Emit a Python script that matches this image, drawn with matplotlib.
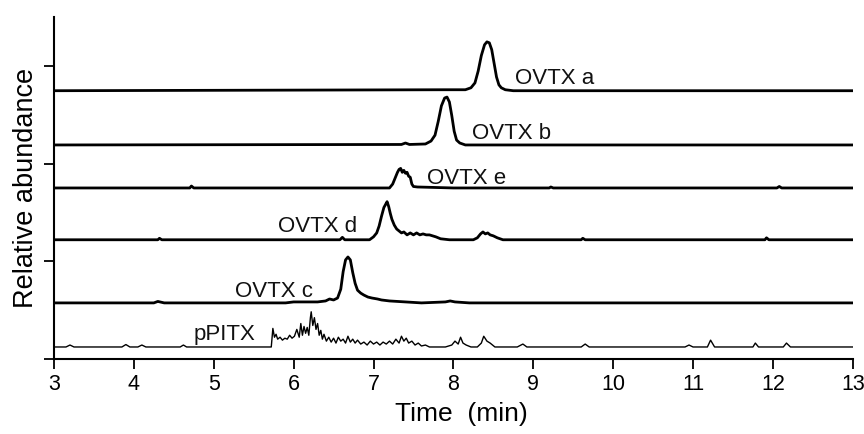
# Stacked LC-MS extracted ion chromatograms (OVTX a-e, pPITX)

import numpy as np
import matplotlib.pyplot as plt

plt.rcParams['font.family'] = ['Liberation Sans', 'DejaVu Sans']

# traces: retention time (min) and relative intensity
t_a = [3.0, 7.9, 8.15, 8.22, 8.27, 8.31, 8.35, 8.39, 8.42, 8.45, 8.48, 8.51, 8.54, 8.57, 8.60, 8.65, 8.75, 13.0]
i_a = [0.0, 0.01, 0.01, 0.03, 0.08, 0.20, 0.36, 0.47, 0.50, 0.49, 0.42, 0.28, 0.14, 0.06, 0.03, 0.01, 0.0, 0.0]

t_b = [3.0, 7.35, 7.4, 7.45, 7.65, 7.72, 7.77, 7.81, 7.85, 7.89, 7.92, 7.95, 7.98, 8.01, 8.04, 8.08, 8.15, 13.0]
i_b = [0.0, 0.005, 0.02, 0.005, 0.01, 0.04, 0.10, 0.24, 0.40, 0.48, 0.49, 0.44, 0.30, 0.14, 0.05, 0.02, 0.0, 0.0]

t_e = [3.0, 4.70, 4.72, 4.75, 7.20, 7.24, 7.27, 7.30, 7.32, 7.34, 7.36, 7.38, 7.40, 7.42, 7.44, 7.46, 7.48, 7.50, 7.55,
       8.0, 9.2, 9.22, 9.25, 12.05, 12.08, 12.11, 13.0]
i_e = [0.0, 0.0, 0.02, 0.0, 0.0, 0.04, 0.10, 0.16, 0.19, 0.20, 0.16, 0.18, 0.15, 0.16, 0.12, 0.11, 0.04, 0.015, 0.01,
       0.0, 0.0, 0.01, 0.0, 0.0, 0.015, 0.0, 0.0]

t_d = [3.0, 4.30, 4.32, 4.35, 6.58, 6.61, 6.64, 6.95, 7.00, 7.04, 7.07, 7.10, 7.13, 7.15, 7.17, 7.19, 7.21, 7.23, 7.26,
       7.29, 7.32, 7.35, 7.38, 7.42, 7.46, 7.50, 7.54, 7.58, 7.62, 7.66, 7.70, 7.74, 7.78, 7.84, 7.95, 8.25, 8.30,
       8.34, 8.37, 8.40, 8.43, 8.46, 8.50, 8.55, 8.62, 9.60, 9.62, 9.65, 11.90, 11.92, 11.95, 13.0]
i_d = [0.0, 0.0, 0.015, 0.0, 0.0, 0.025, 0.0, 0.0, 0.03, 0.07, 0.14, 0.24, 0.33, 0.36, 0.39, 0.34, 0.27, 0.21, 0.15,
       0.11, 0.09, 0.07, 0.08, 0.05, 0.07, 0.05, 0.07, 0.05, 0.06, 0.05, 0.05, 0.04, 0.03, 0.01, 0.0, 0.0, 0.02,
       0.06, 0.08, 0.06, 0.07, 0.05, 0.04, 0.02, 0.0, 0.0, 0.015, 0.0, 0.0, 0.02, 0.0, 0.0]

t_c = [3.0, 4.25, 4.30, 4.38, 5.90, 6.00, 6.30, 6.40, 6.45, 6.50, 6.55, 6.59, 6.62, 6.65, 6.68, 6.71, 6.74, 6.77,
       6.80, 6.84, 6.88, 6.93, 6.98, 7.05, 7.10, 7.20, 7.40, 7.60, 7.90, 7.96, 8.02, 8.20, 13.0]
i_c = [0.0, 0.0, 0.015, 0.0, 0.0, 0.01, 0.01, 0.02, 0.04, 0.03, 0.05, 0.14, 0.32, 0.44, 0.47, 0.44, 0.31, 0.20,
       0.13, 0.10, 0.08, 0.06, 0.05, 0.04, 0.03, 0.02, 0.01, 0.0, 0.01, 0.02, 0.01, 0.0, 0.0]

t_p = [3.0, 3.15, 3.2, 3.25, 3.85, 3.9, 3.95, 4.05, 4.1, 4.15, 4.58, 4.62, 4.66, 5.72, 5.74, 5.76, 5.78, 5.80, 5.83,
       5.86, 5.89, 5.92, 5.95, 5.98, 6.01, 6.04, 6.07, 6.09, 6.11, 6.13, 6.15, 6.17, 6.19, 6.21, 6.22, 6.24, 6.26,
       6.28, 6.30, 6.32, 6.34, 6.36, 6.38, 6.41, 6.44, 6.47, 6.50, 6.53, 6.56, 6.59, 6.62, 6.65, 6.68, 6.71, 6.74,
       6.77, 6.80, 6.84, 6.88, 6.92, 6.96, 7.00, 7.04, 7.08, 7.12, 7.16, 7.20, 7.24, 7.28, 7.32, 7.35, 7.38, 7.41,
       7.44, 7.48, 7.52, 7.56, 7.60, 7.65, 7.70, 7.90, 7.98, 8.02, 8.06, 8.09, 8.12, 8.16, 8.22, 8.30, 8.35, 8.38,
       8.42, 8.46, 8.52, 8.80, 8.87, 8.92, 9.60, 9.65, 9.70, 10.90, 10.95, 11.0, 11.18, 11.22, 11.27, 11.75, 11.78,
       11.82, 12.13, 12.17, 12.22, 13.0]
i_p = [0.0, 0.0, 0.02, 0.0, 0.0, 0.025, 0.0, 0.0, 0.02, 0.0, 0.0, 0.02, 0.0, 0.0, 0.19, 0.10, 0.13, 0.08, 0.10,
       0.07, 0.09, 0.08, 0.12, 0.09, 0.11, 0.18, 0.10, 0.24, 0.12, 0.21, 0.14, 0.20, 0.12, 0.30, 0.36, 0.22, 0.30,
       0.18, 0.24, 0.12, 0.17, 0.08, 0.13, 0.06, 0.10, 0.05, 0.09, 0.04, 0.10, 0.06, 0.08, 0.04, 0.11, 0.05, 0.08,
       0.04, 0.07, 0.03, 0.05, 0.02, 0.06, 0.03, 0.05, 0.02, 0.05, 0.03, 0.06, 0.03, 0.08, 0.04, 0.11, 0.06, 0.09,
       0.04, 0.06, 0.02, 0.04, 0.01, 0.02, 0.0, 0.0, 0.02, 0.06, 0.03, 0.10, 0.04, 0.02, 0.0, 0.0, 0.04, 0.11,
       0.06, 0.04, 0.0, 0.0, 0.03, 0.0, 0.0, 0.03, 0.0, 0.0, 0.02, 0.0, 0.0, 0.07, 0.0, 0.0, 0.04,
       0.0, 0.0, 0.04, 0.0, 0.0]

labels = ['OVTX a', 'OVTX b', 'OVTX e', 'OVTX d', 'OVTX c', 'pPITX']
offsets = [2.745, 2.19, 1.75, 1.22, 0.574, 0.123]
label_x = [8.77, 8.23, 7.67, 5.80, 5.27, 4.75]
label_y = [2.817, 2.254, 1.793, 1.301, 0.635, 0.195]   # text baselines
times = [t_a, t_b, t_e, t_d, t_c, t_p]
intens = [i_a, i_b, i_e, i_d, i_c, i_p]
widths = [2.0, 2.0, 2.0, 2.0, 2.0, 1.0]

fig = plt.figure(figsize=(8.64, 4.34), dpi=100)
ax = fig.add_axes([0.0625, 0.1728, 0.9245, 0.7882])

for t, y, off, w in zip(times, intens, offsets, widths):
    ax.plot(t, np.array(y) + off, color='black', lw=w, solid_joinstyle='round')

for lab, lx, ly in zip(labels, label_x, label_y):
    ax.text(lx, ly, lab, fontsize=16, va='baseline', ha='left', color='#111111')

ax.set_xlim(3, 13)
ax.set_ylim(0, 3.5)
ax.set_xticks(range(3, 14))
ax.set_yticks([0, 1, 2, 3])
ax.set_yticklabels([])
ax.tick_params(axis='both', direction='out', length=7, width=1.3, labelsize=15.5)
for s in ['top', 'right']:
    ax.spines[s].set_visible(False)
for s in ['left', 'bottom']:
    ax.spines[s].set_linewidth(1.5)

ax.set_xlabel('Time  (min)', fontsize=19, labelpad=2)
ax.xaxis.set_label_coords(0.51, -0.125)
ax.set_ylabel('Relative abundance', fontsize=19.5, labelpad=0)

plt.savefig('out.png', dpi=100)
